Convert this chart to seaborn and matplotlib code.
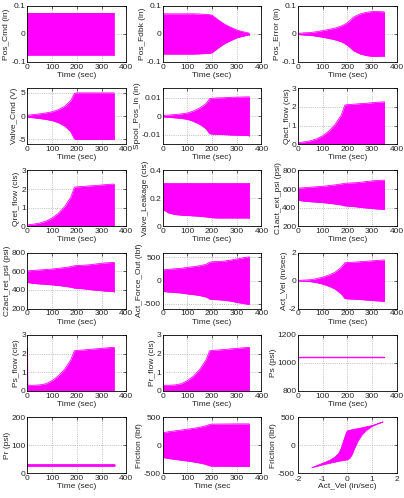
import numpy as np
import pandas as pd
import matplotlib
matplotlib.use("Agg")
import matplotlib.pyplot as plt
from matplotlib.ticker import FuncFormatter
import seaborn as sns

# envelope knots (time in sec)
t_env = [0, 25, 50, 75, 100, 125, 150, 175, 190, 200, 225, 250, 275, 300, 325, 350]

pos_cmd_up = [0.075] * 16
pos_fdbk_up = [0.072, 0.072, 0.072, 0.072, 0.072, 0.072, 0.071, 0.070, 0.069, 0.067, 0.050, 0.035, 0.024, 0.014, 0.008, 0.003]
pos_err_up = [0.002, 0.004, 0.005, 0.008, 0.012, 0.016, 0.021, 0.028, 0.035, 0.040, 0.060, 0.071, 0.077, 0.080, 0.080, 0.079]
valve_cmd_up = [0.2, 0.35, 0.5, 0.7, 0.95, 1.4, 2.1, 3.3, 4.9, 5.0, 5.0, 5.0, 5.0, 5.0, 5.0, 5.0]
spool_up = [0.0004, 0.0006, 0.0009, 0.0012, 0.0017, 0.0028, 0.0044, 0.0067, 0.0094, 0.0096, 0.0098, 0.0099, 0.0101, 0.0102, 0.0103, 0.0104]
qact_up = [0.08, 0.12, 0.18, 0.28, 0.45, 0.7, 1.05, 1.55, 2.1, 2.12, 2.14, 2.17, 2.19, 2.22, 2.25, 2.27]
qret_up = [0.08, 0.12, 0.18, 0.28, 0.45, 0.7, 1.05, 1.55, 2.1, 2.12, 2.14, 2.17, 2.19, 2.22, 2.25, 2.27]
leak_up = [0.31] * 16
leak_lo = [0.12, 0.095, 0.085, 0.08, 0.078, 0.075, 0.072, 0.068, 0.064, 0.062, 0.06, 0.06, 0.06, 0.06, 0.06, 0.06]
c1_up = [610, 615, 620, 625, 630, 637, 645, 655, 662, 664, 667, 672, 680, 688, 693, 696]
c1_lo = [480, 470, 465, 460, 455, 448, 440, 430, 420, 418, 413, 405, 398, 392, 386, 382]
c2_up = [605, 610, 615, 620, 625, 632, 640, 650, 660, 662, 665, 670, 678, 686, 692, 696]
c2_lo = [480, 470, 465, 460, 455, 448, 440, 430, 420, 418, 413, 405, 398, 392, 386, 382]
force_up = [230, 245, 255, 265, 285, 300, 320, 350, 395, 405, 410, 420, 440, 465, 490, 510]
vel_up = [0.02, 0.04, 0.07, 0.14, 0.25, 0.4, 0.6, 0.95, 1.28, 1.3, 1.32, 1.35, 1.38, 1.42, 1.45, 1.48]
ps_flow_up = [0.3, 0.3, 0.32, 0.38, 0.55, 0.8, 1.15, 1.65, 2.15, 2.17, 2.19, 2.22, 2.25, 2.28, 2.31, 2.33]
pr_flow_up = [0.3, 0.3, 0.32, 0.38, 0.55, 0.8, 1.15, 1.65, 2.15, 2.17, 2.19, 2.22, 2.25, 2.28, 2.31, 2.33]
fric_up = [220, 240, 255, 270, 285, 300, 320, 345, 370, 375, 377, 378, 379, 380, 380, 380]

t_line = [0, 350]
ps_line = [1040, 1040]
pr_line = [30, 30]

# hysteresis loop Friction vs Act_Vel
loop_vel_up = [-1.45, -1.2, -1.0, -0.7, -0.5, -0.35, -0.25, -0.15, -0.05, 0.0, 0.3, 0.6, 1.0, 1.25, 1.45]
loop_fric_up = [-405, -360, -325, -270, -215, -150, -60, 80, 210, 255, 285, 310, 350, 385, 415]
loop_vel_lo = [-1.45, -1.2, -1.0, -0.7, -0.4, -0.1, 0.0, 0.1, 0.2, 0.3, 0.45, 0.6, 0.8, 1.0, 1.25, 1.45]
loop_fric_lo = [-405, -380, -355, -325, -295, -272, -265, -240, -170, -60, 80, 180, 270, 330, 380, 415]

MAG = "#ff00ff"

sns.set_style("white")
plt.rcParams["font.family"] = ["Liberation Sans", "DejaVu Sans"]
plt.rcParams["axes.unicode_minus"] = False
plt.rcParams["font.size"] = 6

fig, axes = plt.subplots(6, 3, figsize=(4.04, 4.98), dpi=100)
fig.subplots_adjust(left=0.068, right=0.982, top=0.988, bottom=0.05, wspace=0.37, hspace=0.47)
axes = axes.ravel()


def band(ax, up, lo=None, sym=False, spike=None):
    up = np.array(up, dtype=float)
    if sym:
        lo = -up
    elif lo is None:
        lo = np.zeros_like(up)
    lo = np.array(lo, dtype=float)
    tt = list(t_env)
    if spike is not None:
        tt = [0] + [1] + tt[1:]
        up = np.concatenate([[spike], [up[0]], up[1:]])
        lo = np.concatenate([[lo[0]], [lo[0]], lo[1:]])
    ax.fill_between(tt, lo, up, color=MAG, lw=0)
    d = pd.DataFrame({"t": tt, "up": up, "lo": lo})
    sns.lineplot(data=d, x="t", y="up", ax=ax, color=MAG, lw=0.6)
    sns.lineplot(data=d, x="t", y="lo", ax=ax, color=MAG, lw=0.6)
    ax.plot([tt[-1], tt[-1]], [lo[-1], up[-1]], color=MAG, lw=0.6)


band(axes[0], pos_cmd_up, sym=True)
band(axes[1], pos_fdbk_up, sym=True)
band(axes[2], pos_err_up, sym=True)
band(axes[3], valve_cmd_up, sym=True)
band(axes[4], spool_up, sym=True)
band(axes[5], qact_up)
band(axes[6], qret_up)
band(axes[7], leak_up, leak_lo)
band(axes[8], c1_up, c1_lo)
band(axes[9], c2_up, c2_lo)
band(axes[10], force_up, sym=True)
band(axes[11], vel_up, sym=True)
band(axes[12], ps_flow_up, spike=2.3)
band(axes[13], pr_flow_up, spike=2.3)
sns.lineplot(x=t_line, y=ps_line, ax=axes[14], color=MAG, lw=1.0)
sns.lineplot(x=t_line, y=pr_line, ax=axes[15], color=MAG, lw=2.0)
band(axes[16], fric_up, sym=True)

loop_x = loop_vel_up + loop_vel_lo[::-1]
loop_y = loop_fric_up + loop_fric_lo[::-1]
axes[17].fill(loop_x, loop_y, color=MAG, lw=0.6)

ylabels = ["Pos_Cmd (in)", "Pos_Fdbk (in)", "Pos_Error (in)",
           "Valve_Cmd (V)", "Spool_Pos_in (in)", "Qact_flow (cis)",
           "Qret_flow (cis)", "Valve_Leakage (cis)", "C1act_ext_psi (psi)",
           "C2act_ret_psi (psi)", "Act_Force_Out (lbf)", "Act_Vel (in/sec)",
           "Ps_flow (cis)", "Pr_flow (cis)", "Ps (psi)",
           "Pr (psi)", "Friction (lbf)", "Friction (lbf)"]
xlabels = ["Time (sec)"] * 16 + ["Time (sec", "Act_Vel (in/sec)"]
ylims = [(-0.1, 0.1), (-0.1, 0.1), (-0.1, 0.1),
         (-6, 6), (-0.015, 0.015), (0, 3),
         (0, 3), (0, 0.4), (200, 800),
         (200, 800), (-600, 600), (-2, 2),
         (0, 3), (0, 3), (800, 1200),
         (0, 200), (-500, 500), (-500, 500)]
yticks = [[-0.1, 0, 0.1], [-0.1, 0, 0.1], [-0.1, 0, 0.1],
          [-5, 0, 5], [-0.01, 0, 0.01], [0, 1, 2, 3],
          [0, 1, 2, 3], [0, 0.2, 0.4], [200, 400, 600, 800],
          [200, 400, 600, 800], [-500, 0, 500], [-2, 0, 2],
          [0, 1, 2, 3], [0, 1, 2, 3], [800, 1000, 1200],
          [0, 100, 200], [-500, 0, 500], [-500, 0, 500]]

fmt = FuncFormatter(lambda v, p: "%g" % round(v, 6))
for i, ax in enumerate(axes):
    ax.set_ylim(*ylims[i])
    ax.set_yticks(yticks[i])
    if i == 17:
        ax.set_xlim(-2, 2)
        ax.set_xticks([-2, -1, 0, 1, 2])
    else:
        ax.set_xlim(0, 400)
        ax.set_xticks([0, 100, 200, 300, 400])
    ax.xaxis.set_major_formatter(fmt)
    ax.yaxis.set_major_formatter(fmt)
    ax.set_xlabel(xlabels[i], fontsize=6, labelpad=1)
    ax.set_ylabel(ylabels[i], fontsize=6, labelpad=0.5)
    ax.grid(True, color="#999999", linestyle=":", lw=0.5)
    ax.tick_params(direction="in", top=True, right=True, length=2, width=0.5,
                   labelsize=6, pad=1.2)
    for s in ax.spines.values():
        s.set_color("black")
        s.set_linewidth(0.6)
    ax.set_axisbelow(True)

# keep the -500 and -2 labels of the loop panel apart
axes[17].tick_params(axis="x", pad=2.4)
axes[17].tick_params(axis="y", pad=2.2)
axes[17].set_xlabel(xlabels[17], fontsize=6, labelpad=0)

fig.savefig("out.png", dpi=100)
